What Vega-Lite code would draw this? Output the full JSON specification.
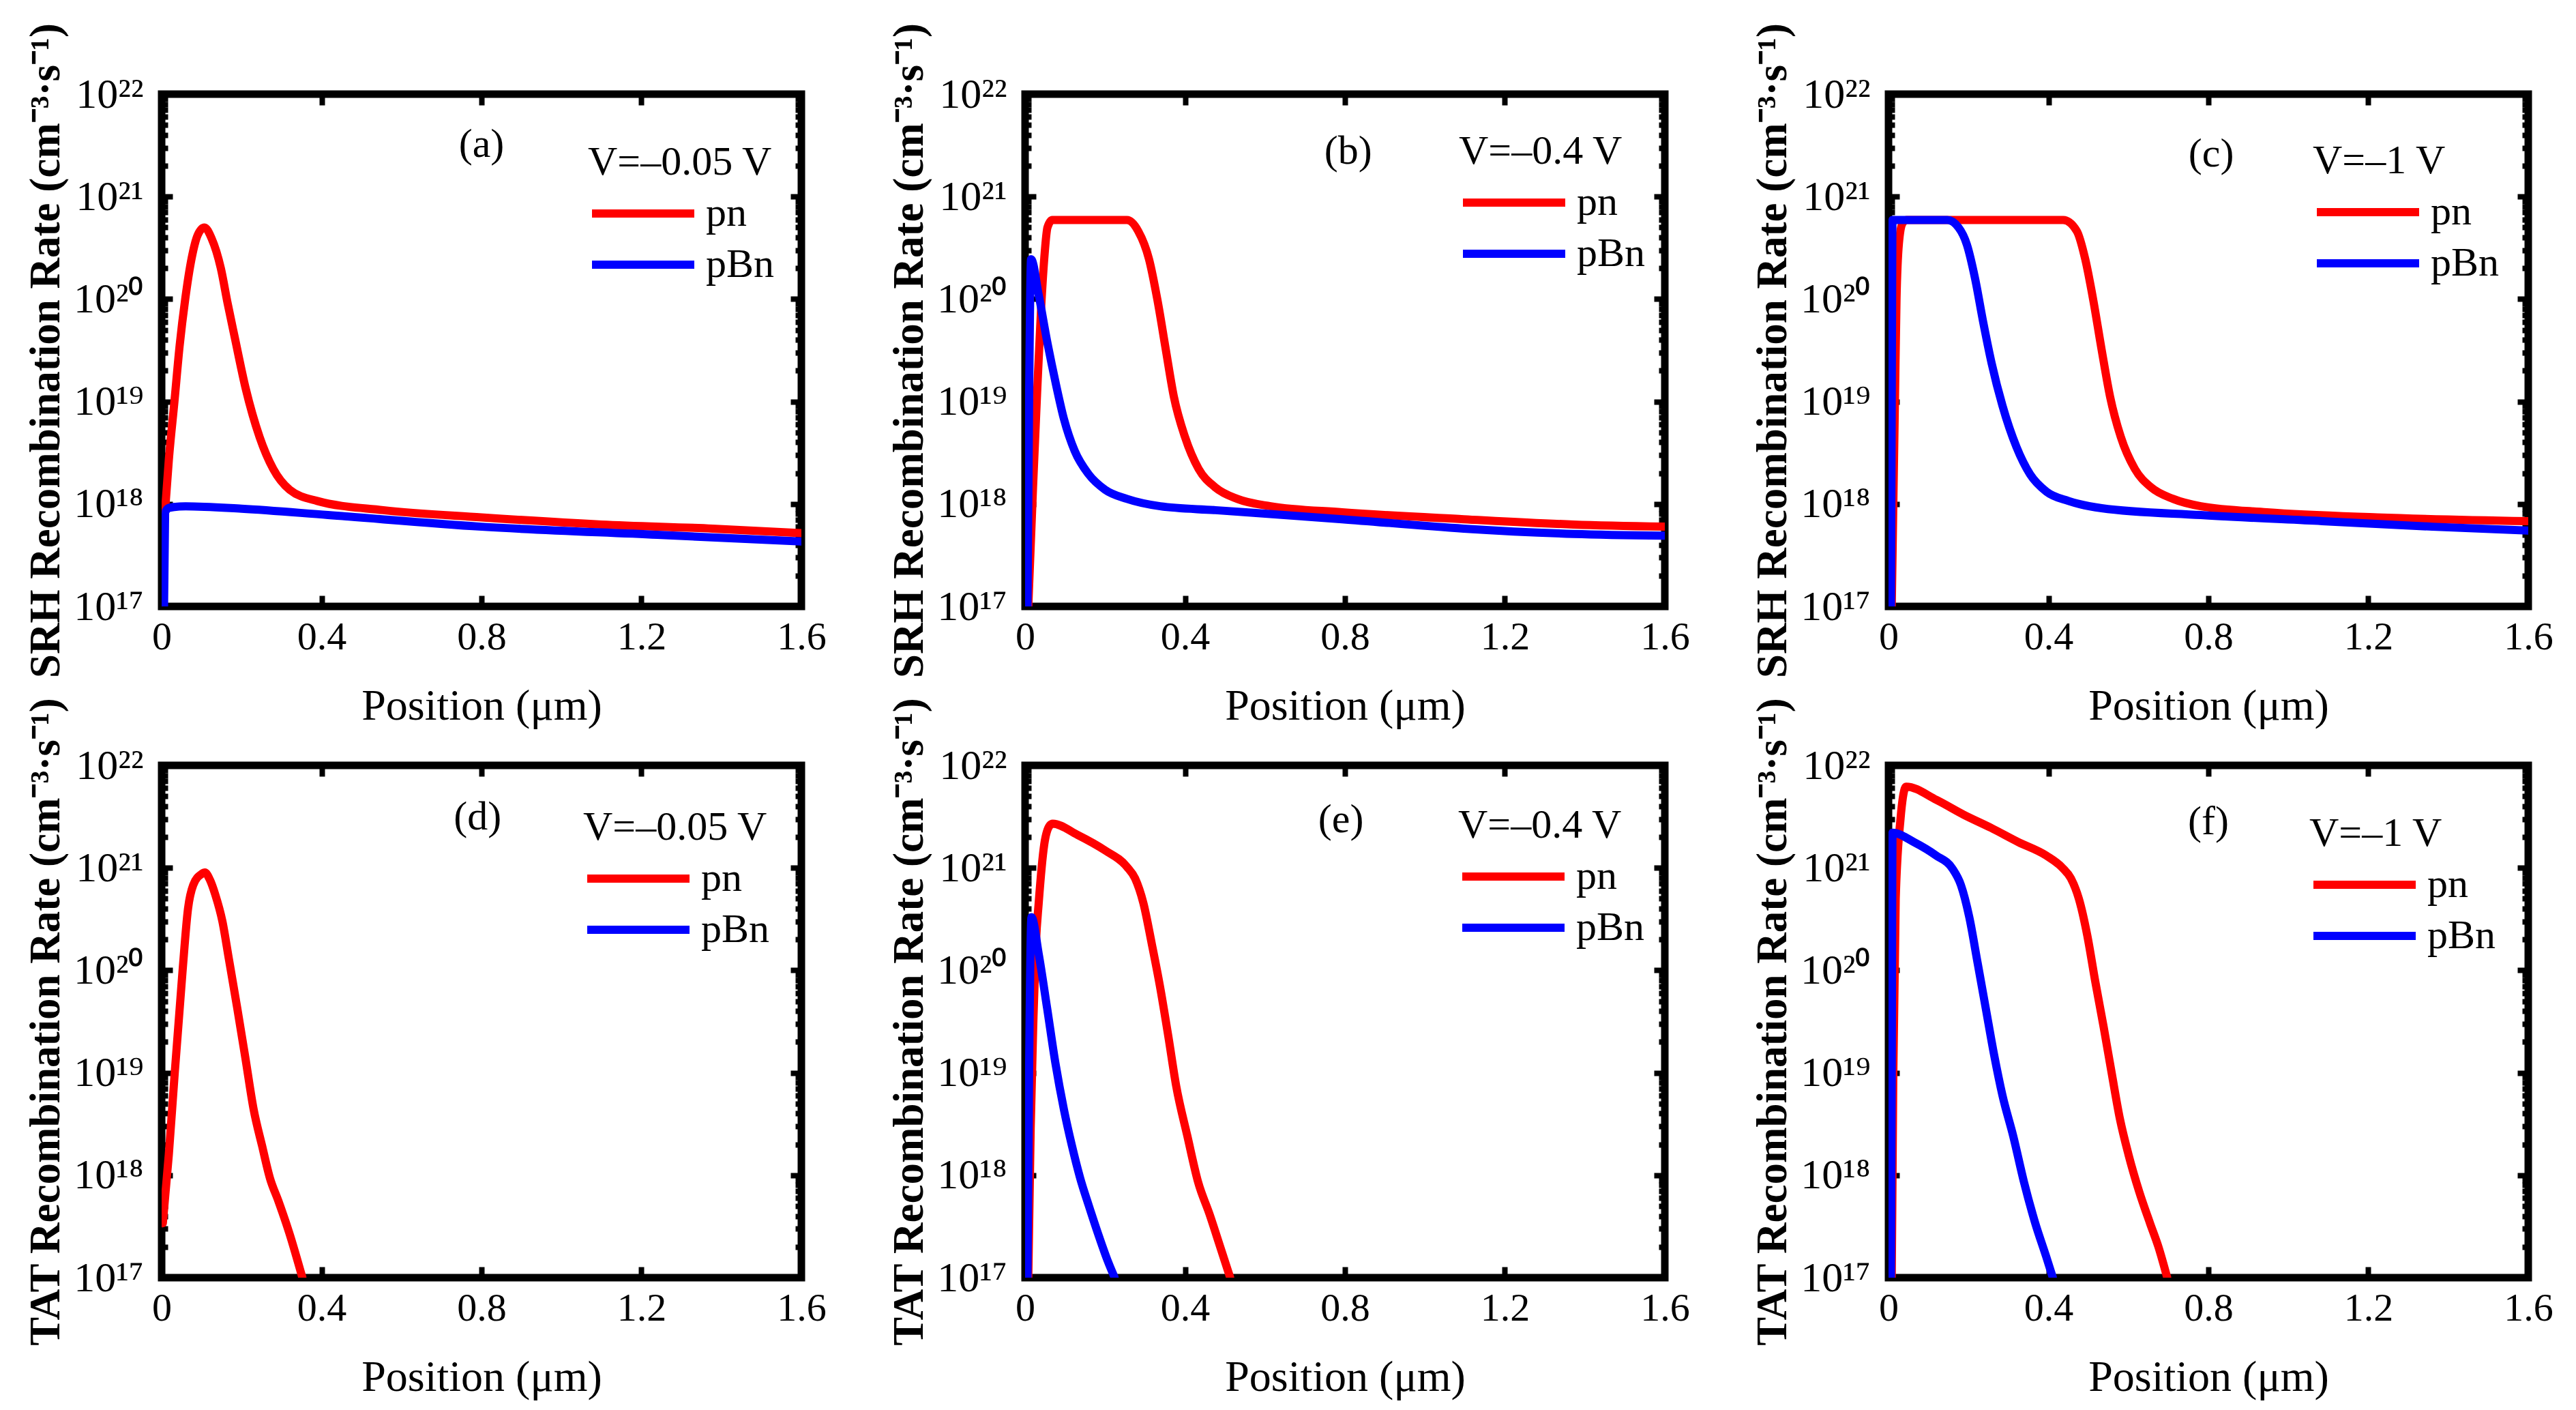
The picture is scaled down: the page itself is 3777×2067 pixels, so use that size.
{
  "$schema": "https://vega.github.io/schema/vega-lite/v6.json",
  "background": "#ffffff",
  "padding": {"left": 30, "top": 28, "right": 0, "bottom": 0},
  "datasets": {
    "curves": [
      {"panel": "a", "device": "pn", "x": 0.008, "rate": 8.0e17},
      {"panel": "a", "device": "pn", "x": 0.018, "rate": 2.7e18},
      {"panel": "a", "device": "pn", "x": 0.032, "rate": 1.0e19},
      {"panel": "a", "device": "pn", "x": 0.045, "rate": 3.5e19},
      {"panel": "a", "device": "pn", "x": 0.059, "rate": 1.0e20},
      {"panel": "a", "device": "pn", "x": 0.075, "rate": 2.5e20},
      {"panel": "a", "device": "pn", "x": 0.09, "rate": 4.2e20},
      {"panel": "a", "device": "pn", "x": 0.107, "rate": 5.0e20},
      {"panel": "a", "device": "pn", "x": 0.125, "rate": 3.9e20},
      {"panel": "a", "device": "pn", "x": 0.148, "rate": 2.0e20},
      {"panel": "a", "device": "pn", "x": 0.165, "rate": 9.1e19},
      {"panel": "a", "device": "pn", "x": 0.183, "rate": 4.2e19},
      {"panel": "a", "device": "pn", "x": 0.21, "rate": 1.35e19},
      {"panel": "a", "device": "pn", "x": 0.245, "rate": 4.5e18},
      {"panel": "a", "device": "pn", "x": 0.279, "rate": 2.2e18},
      {"panel": "a", "device": "pn", "x": 0.32, "rate": 1.38e18},
      {"panel": "a", "device": "pn", "x": 0.389, "rate": 1.07e18},
      {"panel": "a", "device": "pn", "x": 0.554, "rate": 8.7e17},
      {"panel": "a", "device": "pn", "x": 0.8, "rate": 7.4e17},
      {"panel": "a", "device": "pn", "x": 1.1, "rate": 6.3e17},
      {"panel": "a", "device": "pn", "x": 1.378, "rate": 5.75e17},
      {"panel": "a", "device": "pn", "x": 1.6, "rate": 5.2e17},
      {"panel": "a", "device": "pBn", "x": 0.006, "rate": 1.0e17},
      {"panel": "a", "device": "pBn", "x": 0.01, "rate": 8.5e17},
      {"panel": "a", "device": "pBn", "x": 0.02, "rate": 9.2e17},
      {"panel": "a", "device": "pBn", "x": 0.06, "rate": 9.5e17},
      {"panel": "a", "device": "pBn", "x": 0.2, "rate": 9.0e17},
      {"panel": "a", "device": "pBn", "x": 0.416, "rate": 7.8e17},
      {"panel": "a", "device": "pBn", "x": 0.8, "rate": 6.0e17},
      {"panel": "a", "device": "pBn", "x": 1.24, "rate": 5.0e17},
      {"panel": "a", "device": "pBn", "x": 1.6, "rate": 4.3e17},
      {"panel": "b", "device": "pn", "x": 0.008, "rate": 1.0e17},
      {"panel": "b", "device": "pn", "x": 0.02, "rate": 1.5e18},
      {"panel": "b", "device": "pn", "x": 0.03, "rate": 1.2e19},
      {"panel": "b", "device": "pn", "x": 0.04, "rate": 8.0e19},
      {"panel": "b", "device": "pn", "x": 0.048, "rate": 2.5e20},
      {"panel": "b", "device": "pn", "x": 0.056, "rate": 5.0e20},
      {"panel": "b", "device": "pn", "x": 0.068, "rate": 5.9e20},
      {"panel": "b", "device": "pn", "x": 0.255, "rate": 5.9e20},
      {"panel": "b", "device": "pn", "x": 0.283, "rate": 4.6e20},
      {"panel": "b", "device": "pn", "x": 0.31, "rate": 2.45e20},
      {"panel": "b", "device": "pn", "x": 0.331, "rate": 9.8e19},
      {"panel": "b", "device": "pn", "x": 0.352, "rate": 3.2e19},
      {"panel": "b", "device": "pn", "x": 0.372, "rate": 1.12e19},
      {"panel": "b", "device": "pn", "x": 0.4, "rate": 4.5e18},
      {"panel": "b", "device": "pn", "x": 0.434, "rate": 2.2e18},
      {"panel": "b", "device": "pn", "x": 0.476, "rate": 1.45e18},
      {"panel": "b", "device": "pn", "x": 0.531, "rate": 1.12e18},
      {"panel": "b", "device": "pn", "x": 0.614, "rate": 9.5e17},
      {"panel": "b", "device": "pn", "x": 0.793, "rate": 8.3e17},
      {"panel": "b", "device": "pn", "x": 1.097, "rate": 7.1e17},
      {"panel": "b", "device": "pn", "x": 1.372, "rate": 6.3e17},
      {"panel": "b", "device": "pn", "x": 1.6, "rate": 6.0e17},
      {"panel": "b", "device": "pBn", "x": 0.006, "rate": 1.0e17},
      {"panel": "b", "device": "pBn", "x": 0.01, "rate": 1.0e19},
      {"panel": "b", "device": "pBn", "x": 0.015, "rate": 2.45e20},
      {"panel": "b", "device": "pBn", "x": 0.034, "rate": 1.1e20},
      {"panel": "b", "device": "pBn", "x": 0.055, "rate": 3.9e19},
      {"panel": "b", "device": "pBn", "x": 0.076, "rate": 1.55e19},
      {"panel": "b", "device": "pBn", "x": 0.097, "rate": 6.8e18},
      {"panel": "b", "device": "pBn", "x": 0.124, "rate": 3.3e18},
      {"panel": "b", "device": "pBn", "x": 0.159, "rate": 1.95e18},
      {"panel": "b", "device": "pBn", "x": 0.2, "rate": 1.38e18},
      {"panel": "b", "device": "pBn", "x": 0.255, "rate": 1.12e18},
      {"panel": "b", "device": "pBn", "x": 0.338, "rate": 9.5e17},
      {"panel": "b", "device": "pBn", "x": 0.476, "rate": 8.7e17},
      {"panel": "b", "device": "pBn", "x": 0.793, "rate": 7.1e17},
      {"panel": "b", "device": "pBn", "x": 1.097, "rate": 5.75e17},
      {"panel": "b", "device": "pBn", "x": 1.372, "rate": 5.1e17},
      {"panel": "b", "device": "pBn", "x": 1.6, "rate": 4.9e17},
      {"panel": "c", "device": "pn", "x": 0.008, "rate": 1.0e17},
      {"panel": "c", "device": "pn", "x": 0.012, "rate": 1.0e18},
      {"panel": "c", "device": "pn", "x": 0.016, "rate": 1.0e19},
      {"panel": "c", "device": "pn", "x": 0.02, "rate": 1.0e20},
      {"panel": "c", "device": "pn", "x": 0.026, "rate": 3.5e20},
      {"panel": "c", "device": "pn", "x": 0.035, "rate": 5.5e20},
      {"panel": "c", "device": "pn", "x": 0.045, "rate": 5.9e20},
      {"panel": "c", "device": "pn", "x": 0.437, "rate": 5.9e20},
      {"panel": "c", "device": "pn", "x": 0.471, "rate": 4.6e20},
      {"panel": "c", "device": "pn", "x": 0.492, "rate": 2.45e20},
      {"panel": "c", "device": "pn", "x": 0.512, "rate": 9.8e19},
      {"panel": "c", "device": "pn", "x": 0.533, "rate": 3.2e19},
      {"panel": "c", "device": "pn", "x": 0.554, "rate": 1.12e19},
      {"panel": "c", "device": "pn", "x": 0.581, "rate": 4.5e18},
      {"panel": "c", "device": "pn", "x": 0.616, "rate": 2.2e18},
      {"panel": "c", "device": "pn", "x": 0.657, "rate": 1.45e18},
      {"panel": "c", "device": "pn", "x": 0.712, "rate": 1.12e18},
      {"panel": "c", "device": "pn", "x": 0.781, "rate": 9.5e17},
      {"panel": "c", "device": "pn", "x": 0.946, "rate": 8.3e17},
      {"panel": "c", "device": "pn", "x": 1.222, "rate": 7.4e17},
      {"panel": "c", "device": "pn", "x": 1.6, "rate": 6.8e17},
      {"panel": "c", "device": "pBn", "x": 0.006, "rate": 1.0e17},
      {"panel": "c", "device": "pBn", "x": 0.008, "rate": 1.0e19},
      {"panel": "c", "device": "pBn", "x": 0.01, "rate": 5.9e20},
      {"panel": "c", "device": "pBn", "x": 0.147, "rate": 5.9e20},
      {"panel": "c", "device": "pBn", "x": 0.175, "rate": 5.0e20},
      {"panel": "c", "device": "pBn", "x": 0.196, "rate": 3.4e20},
      {"panel": "c", "device": "pBn", "x": 0.216, "rate": 1.62e20},
      {"panel": "c", "device": "pBn", "x": 0.237, "rate": 5.9e19},
      {"panel": "c", "device": "pBn", "x": 0.258, "rate": 2.35e19},
      {"panel": "c", "device": "pBn", "x": 0.285, "rate": 9.1e18},
      {"panel": "c", "device": "pBn", "x": 0.32, "rate": 3.6e18},
      {"panel": "c", "device": "pBn", "x": 0.354, "rate": 1.95e18},
      {"panel": "c", "device": "pBn", "x": 0.395, "rate": 1.32e18},
      {"panel": "c", "device": "pBn", "x": 0.45, "rate": 1.07e18},
      {"panel": "c", "device": "pBn", "x": 0.533, "rate": 9.1e17},
      {"panel": "c", "device": "pBn", "x": 0.781, "rate": 7.8e17},
      {"panel": "c", "device": "pBn", "x": 1.084, "rate": 6.8e17},
      {"panel": "c", "device": "pBn", "x": 1.36, "rate": 6.0e17},
      {"panel": "c", "device": "pBn", "x": 1.6, "rate": 5.5e17},
      {"panel": "d", "device": "pn", "x": 0.003, "rate": 3.4e17},
      {"panel": "d", "device": "pn", "x": 0.018, "rate": 1.6e18},
      {"panel": "d", "device": "pn", "x": 0.032, "rate": 9.1e18},
      {"panel": "d", "device": "pn", "x": 0.052, "rate": 9.5e19},
      {"panel": "d", "device": "pn", "x": 0.066, "rate": 4.0e20},
      {"panel": "d", "device": "pn", "x": 0.079, "rate": 6.8e20},
      {"panel": "d", "device": "pn", "x": 0.1, "rate": 8.7e20},
      {"panel": "d", "device": "pn", "x": 0.108, "rate": 9.0e20},
      {"panel": "d", "device": "pn", "x": 0.121, "rate": 7.6e20},
      {"panel": "d", "device": "pn", "x": 0.134, "rate": 5.5e20},
      {"panel": "d", "device": "pn", "x": 0.152, "rate": 3.0e20},
      {"panel": "d", "device": "pn", "x": 0.168, "rate": 1.3e20},
      {"panel": "d", "device": "pn", "x": 0.189, "rate": 4.3e19},
      {"panel": "d", "device": "pn", "x": 0.21, "rate": 1.35e19},
      {"panel": "d", "device": "pn", "x": 0.23, "rate": 4.4e18},
      {"panel": "d", "device": "pn", "x": 0.251, "rate": 1.95e18},
      {"panel": "d", "device": "pn", "x": 0.271, "rate": 9.3e17},
      {"panel": "d", "device": "pn", "x": 0.292, "rate": 5.6e17},
      {"panel": "d", "device": "pn", "x": 0.319, "rate": 2.75e17},
      {"panel": "d", "device": "pn", "x": 0.352, "rate": 1.0e17},
      {"panel": "e", "device": "pn", "x": 0.008, "rate": 1.0e17},
      {"panel": "e", "device": "pn", "x": 0.014, "rate": 2.9e18},
      {"panel": "e", "device": "pn", "x": 0.021, "rate": 3.5e19},
      {"panel": "e", "device": "pn", "x": 0.027, "rate": 1.8e20},
      {"panel": "e", "device": "pn", "x": 0.034, "rate": 4.5e20},
      {"panel": "e", "device": "pn", "x": 0.048, "rate": 1.7e21},
      {"panel": "e", "device": "pn", "x": 0.062, "rate": 2.6e21},
      {"panel": "e", "device": "pn", "x": 0.069, "rate": 2.7e21},
      {"panel": "e", "device": "pn", "x": 0.131, "rate": 2.1e21},
      {"panel": "e", "device": "pn", "x": 0.2, "rate": 1.48e21},
      {"panel": "e", "device": "pn", "x": 0.255, "rate": 1.02e21},
      {"panel": "e", "device": "pn", "x": 0.275, "rate": 7.9e20},
      {"panel": "e", "device": "pn", "x": 0.296, "rate": 4.5e20},
      {"panel": "e", "device": "pn", "x": 0.317, "rate": 1.8e20},
      {"panel": "e", "device": "pn", "x": 0.337, "rate": 7.1e19},
      {"panel": "e", "device": "pn", "x": 0.358, "rate": 2.3e19},
      {"panel": "e", "device": "pn", "x": 0.378, "rate": 7.4e18},
      {"panel": "e", "device": "pn", "x": 0.406, "rate": 2.4e18},
      {"panel": "e", "device": "pn", "x": 0.433, "rate": 8.5e17},
      {"panel": "e", "device": "pn", "x": 0.461, "rate": 4.2e17},
      {"panel": "e", "device": "pn", "x": 0.488, "rate": 2.0e17},
      {"panel": "e", "device": "pn", "x": 0.513, "rate": 1.0e17},
      {"panel": "e", "device": "pBn", "x": 0.006, "rate": 1.0e17},
      {"panel": "e", "device": "pBn", "x": 0.01, "rate": 1.0e19},
      {"panel": "e", "device": "pBn", "x": 0.016, "rate": 3.3e20},
      {"panel": "e", "device": "pBn", "x": 0.034, "rate": 1.45e20},
      {"panel": "e", "device": "pBn", "x": 0.055, "rate": 4.3e19},
      {"panel": "e", "device": "pBn", "x": 0.076, "rate": 1.23e19},
      {"panel": "e", "device": "pBn", "x": 0.097, "rate": 4.4e18},
      {"panel": "e", "device": "pBn", "x": 0.117, "rate": 1.95e18},
      {"panel": "e", "device": "pBn", "x": 0.138, "rate": 9.3e17},
      {"panel": "e", "device": "pBn", "x": 0.159, "rate": 5.1e17},
      {"panel": "e", "device": "pBn", "x": 0.186, "rate": 2.45e17},
      {"panel": "e", "device": "pBn", "x": 0.206, "rate": 1.48e17},
      {"panel": "e", "device": "pBn", "x": 0.224, "rate": 1.0e17},
      {"panel": "f", "device": "pn", "x": 0.008, "rate": 1.0e17},
      {"panel": "f", "device": "pn", "x": 0.012, "rate": 1.0e19},
      {"panel": "f", "device": "pn", "x": 0.018, "rate": 5.0e20},
      {"panel": "f", "device": "pn", "x": 0.03, "rate": 3.0e21},
      {"panel": "f", "device": "pn", "x": 0.044, "rate": 6.2e21},
      {"panel": "f", "device": "pn", "x": 0.12, "rate": 4.6e21},
      {"panel": "f", "device": "pn", "x": 0.188, "rate": 3.3e21},
      {"panel": "f", "device": "pn", "x": 0.257, "rate": 2.45e21},
      {"panel": "f", "device": "pn", "x": 0.325, "rate": 1.78e21},
      {"panel": "f", "device": "pn", "x": 0.394, "rate": 1.32e21},
      {"panel": "f", "device": "pn", "x": 0.435, "rate": 1.0e21},
      {"panel": "f", "device": "pn", "x": 0.456, "rate": 7.9e20},
      {"panel": "f", "device": "pn", "x": 0.476, "rate": 5.0e20},
      {"panel": "f", "device": "pn", "x": 0.497, "rate": 2.2e20},
      {"panel": "f", "device": "pn", "x": 0.517, "rate": 7.8e19},
      {"panel": "f", "device": "pn", "x": 0.538, "rate": 2.8e19},
      {"panel": "f", "device": "pn", "x": 0.558, "rate": 1.0e19},
      {"panel": "f", "device": "pn", "x": 0.579, "rate": 3.5e18},
      {"panel": "f", "device": "pn", "x": 0.6, "rate": 1.6e18},
      {"panel": "f", "device": "pn", "x": 0.627, "rate": 6.9e17},
      {"panel": "f", "device": "pn", "x": 0.654, "rate": 3.4e17},
      {"panel": "f", "device": "pn", "x": 0.675, "rate": 2.0e17},
      {"panel": "f", "device": "pn", "x": 0.697, "rate": 1.0e17},
      {"panel": "f", "device": "pBn", "x": 0.006, "rate": 1.0e17},
      {"panel": "f", "device": "pBn", "x": 0.008, "rate": 1.0e19},
      {"panel": "f", "device": "pBn", "x": 0.01, "rate": 2.2e21},
      {"panel": "f", "device": "pBn", "x": 0.064, "rate": 1.78e21},
      {"panel": "f", "device": "pBn", "x": 0.119, "rate": 1.32e21},
      {"panel": "f", "device": "pBn", "x": 0.16, "rate": 9.8e20},
      {"panel": "f", "device": "pBn", "x": 0.181, "rate": 6.8e20},
      {"panel": "f", "device": "pBn", "x": 0.202, "rate": 3.3e20},
      {"panel": "f", "device": "pBn", "x": 0.223, "rate": 1.17e20},
      {"panel": "f", "device": "pBn", "x": 0.243, "rate": 4.3e19},
      {"panel": "f", "device": "pBn", "x": 0.264, "rate": 1.5e19},
      {"panel": "f", "device": "pBn", "x": 0.285, "rate": 6.0e18},
      {"panel": "f", "device": "pBn", "x": 0.312, "rate": 2.4e18},
      {"panel": "f", "device": "pBn", "x": 0.339, "rate": 8.5e17},
      {"panel": "f", "device": "pBn", "x": 0.367, "rate": 3.4e17},
      {"panel": "f", "device": "pBn", "x": 0.394, "rate": 1.62e17},
      {"panel": "f", "device": "pBn", "x": 0.411, "rate": 1.0e17}
    ]
  },
  "columns": 3,
  "spacing": {"row": 233, "column": 328},
  "bounds": "flush",
  "resolve": {"scale": {"color": "independent"}, "legend": {"color": "independent"}},
  "concat": [
    {
      "width": 938, "height": 751,
      "layer": [
        {
          "data": {"name": "curves"},
          "transform": [{"filter": "datum.panel === 'a'"}],
          "mark": {"type": "line", "strokeWidth": 12, "clip": true, "strokeJoin": "round", "strokeCap": "round", "interpolate": "monotone"},
          "encoding": {
            "x": {"field": "x", "type": "quantitative", "scale": {"domain": [0, 1.6], "nice": false, "zero": false},
              "axis": {"orient": "bottom", "values": [0, 0.4, 0.8, 1.2, 1.6], "format": ".1~f", "tickSize": -16, "labelPadding": 32, "title": "Position (μm)", "titleFontSize": 64, "titleFontWeight": "normal", "titlePadding": 40}},
            "y": {"field": "rate", "type": "quantitative", "scale": {"type": "log", "domain": [1e17, 1e22], "nice": false},
              "axis": {"orient": "left", "values": [1e17, 2e17, 3e17, 4e17, 5e17, 6e17, 7e17, 8e17, 9e17, 1e18, 2e18, 3e18, 4e18, 5e18, 6e18, 7e18, 8e18, 9e18, 1e19, 2e19, 3e19, 4e19, 5e19, 6e19, 7e19, 8e19, 9e19, 1e20, 2e20, 3e20, 4e20, 5e20, 6e20, 7e20, 8e20, 9e20, 1e21, 2e21, 3e21, 4e21, 5e21, 6e21, 7e21, 8e21, 9e21, 1e22],
                "labelExpr": "abs(log(datum.value)/LN10 - round(log(datum.value)/LN10)) < 0.001 ? ['10¹⁷','10¹⁸','10¹⁹','10²⁰','10²¹','10²²'][round(log(datum.value)/LN10) - 17] : ''",
                "tickSize": {"condition": {"test": "abs(log(datum.value)/LN10 - round(log(datum.value)/LN10)) < 0.001", "value": -16}, "value": -9},
                "labelPadding": 43, "labelFontSize": 62, "title": "SRH Recombination Rate (cm⁻³·s⁻¹)", "titleFontSize": 63, "titleFontWeight": "bold", "titlePadding": 8}},
            "color": {"field": "device", "type": "nominal", "scale": {"domain": ["pn", "pBn"], "range": ["#ff0000", "#0000ff"]},
              "legend": {"title": "V=–0.05 V", "legendX": 625, "legendY": 71}}
          }
        },
        {
          "data": {"values": [{"label": "(a)"}]},
          "mark": {"type": "text", "fontSize": 60, "font": "Liberation Serif", "color": "#000000"},
          "encoding": {
            "x": {"datum": 0.8, "type": "quantitative", "axis": {"orient": "top", "values": [0.4, 0.8, 1.2], "labels": false, "tickSize": -16, "title": null}},
            "y": {"datum": 3.2e21, "type": "quantitative", "axis": {"orient": "right", "values": [1e17, 2e17, 3e17, 4e17, 5e17, 6e17, 7e17, 8e17, 9e17, 1e18, 2e18, 3e18, 4e18, 5e18, 6e18, 7e18, 8e18, 9e18, 1e19, 2e19, 3e19, 4e19, 5e19, 6e19, 7e19, 8e19, 9e19, 1e20, 2e20, 3e20, 4e20, 5e20, 6e20, 7e20, 8e20, 9e20, 1e21, 2e21, 3e21, 4e21, 5e21, 6e21, 7e21, 8e21, 9e21, 1e22], "labels": false,
              "tickSize": {"condition": {"test": "abs(log(datum.value)/LN10 - round(log(datum.value)/LN10)) < 0.001", "value": -16}, "value": -9}, "title": null}},
            "text": {"field": "label"}
          }
        }
      ],
      "resolve": {"axis": {"x": "independent", "y": "independent"}}
    },
    {
      "width": 938, "height": 751,
      "layer": [
        {
          "data": {"name": "curves"},
          "transform": [{"filter": "datum.panel === 'b'"}],
          "mark": {"type": "line", "strokeWidth": 12, "clip": true, "strokeJoin": "round", "strokeCap": "round", "interpolate": "monotone"},
          "encoding": {
            "x": {"field": "x", "type": "quantitative", "scale": {"domain": [0, 1.6], "nice": false, "zero": false},
              "axis": {"orient": "bottom", "values": [0, 0.4, 0.8, 1.2, 1.6], "format": ".1~f", "tickSize": -16, "labelPadding": 32, "title": "Position (μm)", "titleFontSize": 64, "titleFontWeight": "normal", "titlePadding": 40}},
            "y": {"field": "rate", "type": "quantitative", "scale": {"type": "log", "domain": [1e17, 1e22], "nice": false},
              "axis": {"orient": "left", "values": [1e17, 2e17, 3e17, 4e17, 5e17, 6e17, 7e17, 8e17, 9e17, 1e18, 2e18, 3e18, 4e18, 5e18, 6e18, 7e18, 8e18, 9e18, 1e19, 2e19, 3e19, 4e19, 5e19, 6e19, 7e19, 8e19, 9e19, 1e20, 2e20, 3e20, 4e20, 5e20, 6e20, 7e20, 8e20, 9e20, 1e21, 2e21, 3e21, 4e21, 5e21, 6e21, 7e21, 8e21, 9e21, 1e22],
                "labelExpr": "abs(log(datum.value)/LN10 - round(log(datum.value)/LN10)) < 0.001 ? ['10¹⁷','10¹⁸','10¹⁹','10²⁰','10²¹','10²²'][round(log(datum.value)/LN10) - 17] : ''",
                "tickSize": {"condition": {"test": "abs(log(datum.value)/LN10 - round(log(datum.value)/LN10)) < 0.001", "value": -16}, "value": -9},
                "labelPadding": 43, "labelFontSize": 62, "title": "SRH Recombination Rate (cm⁻³·s⁻¹)", "titleFontSize": 63, "titleFontWeight": "bold", "titlePadding": 8}},
            "color": {"field": "device", "type": "nominal", "scale": {"domain": ["pn", "pBn"], "range": ["#ff0000", "#0000ff"]},
              "legend": {"title": "V=–0.4 V", "legendX": 636, "legendY": 55}}
          }
        },
        {
          "data": {"values": [{"label": "(b)"}]},
          "mark": {"type": "text", "fontSize": 60, "font": "Liberation Serif", "color": "#000000"},
          "encoding": {
            "x": {"datum": 0.808, "type": "quantitative", "axis": {"orient": "top", "values": [0.4, 0.8, 1.2], "labels": false, "tickSize": -16, "title": null}},
            "y": {"datum": 2.75e21, "type": "quantitative", "axis": {"orient": "right", "values": [1e17, 2e17, 3e17, 4e17, 5e17, 6e17, 7e17, 8e17, 9e17, 1e18, 2e18, 3e18, 4e18, 5e18, 6e18, 7e18, 8e18, 9e18, 1e19, 2e19, 3e19, 4e19, 5e19, 6e19, 7e19, 8e19, 9e19, 1e20, 2e20, 3e20, 4e20, 5e20, 6e20, 7e20, 8e20, 9e20, 1e21, 2e21, 3e21, 4e21, 5e21, 6e21, 7e21, 8e21, 9e21, 1e22], "labels": false,
              "tickSize": {"condition": {"test": "abs(log(datum.value)/LN10 - round(log(datum.value)/LN10)) < 0.001", "value": -16}, "value": -9}, "title": null}},
            "text": {"field": "label"}
          }
        }
      ],
      "resolve": {"axis": {"x": "independent", "y": "independent"}}
    },
    {
      "width": 938, "height": 751,
      "layer": [
        {
          "data": {"name": "curves"},
          "transform": [{"filter": "datum.panel === 'c'"}],
          "mark": {"type": "line", "strokeWidth": 12, "clip": true, "strokeJoin": "round", "strokeCap": "round", "interpolate": "monotone"},
          "encoding": {
            "x": {"field": "x", "type": "quantitative", "scale": {"domain": [0, 1.6], "nice": false, "zero": false},
              "axis": {"orient": "bottom", "values": [0, 0.4, 0.8, 1.2, 1.6], "format": ".1~f", "tickSize": -16, "labelPadding": 32, "title": "Position (μm)", "titleFontSize": 64, "titleFontWeight": "normal", "titlePadding": 40}},
            "y": {"field": "rate", "type": "quantitative", "scale": {"type": "log", "domain": [1e17, 1e22], "nice": false},
              "axis": {"orient": "left", "values": [1e17, 2e17, 3e17, 4e17, 5e17, 6e17, 7e17, 8e17, 9e17, 1e18, 2e18, 3e18, 4e18, 5e18, 6e18, 7e18, 8e18, 9e18, 1e19, 2e19, 3e19, 4e19, 5e19, 6e19, 7e19, 8e19, 9e19, 1e20, 2e20, 3e20, 4e20, 5e20, 6e20, 7e20, 8e20, 9e20, 1e21, 2e21, 3e21, 4e21, 5e21, 6e21, 7e21, 8e21, 9e21, 1e22],
                "labelExpr": "abs(log(datum.value)/LN10 - round(log(datum.value)/LN10)) < 0.001 ? ['10¹⁷','10¹⁸','10¹⁹','10²⁰','10²¹','10²²'][round(log(datum.value)/LN10) - 17] : ''",
                "tickSize": {"condition": {"test": "abs(log(datum.value)/LN10 - round(log(datum.value)/LN10)) < 0.001", "value": -16}, "value": -9},
                "labelPadding": 43, "labelFontSize": 62, "title": "SRH Recombination Rate (cm⁻³·s⁻¹)", "titleFontSize": 63, "titleFontWeight": "bold", "titlePadding": 8}},
            "color": {"field": "device", "type": "nominal", "scale": {"domain": ["pn", "pBn"], "range": ["#ff0000", "#0000ff"]},
              "legend": {"title": "V=–1 V", "legendX": 622, "legendY": 69}}
          }
        },
        {
          "data": {"values": [{"label": "(c)"}]},
          "mark": {"type": "text", "fontSize": 60, "font": "Liberation Serif", "color": "#000000"},
          "encoding": {
            "x": {"datum": 0.807, "type": "quantitative", "axis": {"orient": "top", "values": [0.4, 0.8, 1.2], "labels": false, "tickSize": -16, "title": null}},
            "y": {"datum": 2.6e21, "type": "quantitative", "axis": {"orient": "right", "values": [1e17, 2e17, 3e17, 4e17, 5e17, 6e17, 7e17, 8e17, 9e17, 1e18, 2e18, 3e18, 4e18, 5e18, 6e18, 7e18, 8e18, 9e18, 1e19, 2e19, 3e19, 4e19, 5e19, 6e19, 7e19, 8e19, 9e19, 1e20, 2e20, 3e20, 4e20, 5e20, 6e20, 7e20, 8e20, 9e20, 1e21, 2e21, 3e21, 4e21, 5e21, 6e21, 7e21, 8e21, 9e21, 1e22], "labels": false,
              "tickSize": {"condition": {"test": "abs(log(datum.value)/LN10 - round(log(datum.value)/LN10)) < 0.001", "value": -16}, "value": -9}, "title": null}},
            "text": {"field": "label"}
          }
        }
      ],
      "resolve": {"axis": {"x": "independent", "y": "independent"}}
    },
    {
      "width": 938, "height": 751,
      "layer": [
        {
          "data": {"name": "curves"},
          "transform": [{"filter": "datum.panel === 'd'"}],
          "mark": {"type": "line", "strokeWidth": 12, "clip": true, "strokeJoin": "round", "strokeCap": "round", "interpolate": "monotone"},
          "encoding": {
            "x": {"field": "x", "type": "quantitative", "scale": {"domain": [0, 1.6], "nice": false, "zero": false},
              "axis": {"orient": "bottom", "values": [0, 0.4, 0.8, 1.2, 1.6], "format": ".1~f", "tickSize": -16, "labelPadding": 32, "title": "Position (μm)", "titleFontSize": 64, "titleFontWeight": "normal", "titlePadding": 40}},
            "y": {"field": "rate", "type": "quantitative", "scale": {"type": "log", "domain": [1e17, 1e22], "nice": false},
              "axis": {"orient": "left", "values": [1e17, 2e17, 3e17, 4e17, 5e17, 6e17, 7e17, 8e17, 9e17, 1e18, 2e18, 3e18, 4e18, 5e18, 6e18, 7e18, 8e18, 9e18, 1e19, 2e19, 3e19, 4e19, 5e19, 6e19, 7e19, 8e19, 9e19, 1e20, 2e20, 3e20, 4e20, 5e20, 6e20, 7e20, 8e20, 9e20, 1e21, 2e21, 3e21, 4e21, 5e21, 6e21, 7e21, 8e21, 9e21, 1e22],
                "labelExpr": "abs(log(datum.value)/LN10 - round(log(datum.value)/LN10)) < 0.001 ? ['10¹⁷','10¹⁸','10¹⁹','10²⁰','10²¹','10²²'][round(log(datum.value)/LN10) - 17] : ''",
                "tickSize": {"condition": {"test": "abs(log(datum.value)/LN10 - round(log(datum.value)/LN10)) < 0.001", "value": -16}, "value": -9},
                "labelPadding": 43, "labelFontSize": 62, "title": "TAT Recombination Rate (cm⁻³·s⁻¹)", "titleFontSize": 63, "titleFontWeight": "bold", "titlePadding": 8}},
            "color": {"field": "device", "type": "nominal", "scale": {"domain": ["pn", "pBn"], "range": ["#ff0000", "#0000ff"]},
              "legend": {"title": "V=–0.05 V", "legendX": 618, "legendY": 62}}
          }
        },
        {
          "data": {"values": [{"label": "(d)"}]},
          "mark": {"type": "text", "fontSize": 60, "font": "Liberation Serif", "color": "#000000"},
          "encoding": {
            "x": {"datum": 0.79, "type": "quantitative", "axis": {"orient": "top", "values": [0.4, 0.8, 1.2], "labels": false, "tickSize": -16, "title": null}},
            "y": {"datum": 3.1e21, "type": "quantitative", "axis": {"orient": "right", "values": [1e17, 2e17, 3e17, 4e17, 5e17, 6e17, 7e17, 8e17, 9e17, 1e18, 2e18, 3e18, 4e18, 5e18, 6e18, 7e18, 8e18, 9e18, 1e19, 2e19, 3e19, 4e19, 5e19, 6e19, 7e19, 8e19, 9e19, 1e20, 2e20, 3e20, 4e20, 5e20, 6e20, 7e20, 8e20, 9e20, 1e21, 2e21, 3e21, 4e21, 5e21, 6e21, 7e21, 8e21, 9e21, 1e22], "labels": false,
              "tickSize": {"condition": {"test": "abs(log(datum.value)/LN10 - round(log(datum.value)/LN10)) < 0.001", "value": -16}, "value": -9}, "title": null}},
            "text": {"field": "label"}
          }
        }
      ],
      "resolve": {"axis": {"x": "independent", "y": "independent"}}
    },
    {
      "width": 938, "height": 751,
      "layer": [
        {
          "data": {"name": "curves"},
          "transform": [{"filter": "datum.panel === 'e'"}],
          "mark": {"type": "line", "strokeWidth": 12, "clip": true, "strokeJoin": "round", "strokeCap": "round", "interpolate": "monotone"},
          "encoding": {
            "x": {"field": "x", "type": "quantitative", "scale": {"domain": [0, 1.6], "nice": false, "zero": false},
              "axis": {"orient": "bottom", "values": [0, 0.4, 0.8, 1.2, 1.6], "format": ".1~f", "tickSize": -16, "labelPadding": 32, "title": "Position (μm)", "titleFontSize": 64, "titleFontWeight": "normal", "titlePadding": 40}},
            "y": {"field": "rate", "type": "quantitative", "scale": {"type": "log", "domain": [1e17, 1e22], "nice": false},
              "axis": {"orient": "left", "values": [1e17, 2e17, 3e17, 4e17, 5e17, 6e17, 7e17, 8e17, 9e17, 1e18, 2e18, 3e18, 4e18, 5e18, 6e18, 7e18, 8e18, 9e18, 1e19, 2e19, 3e19, 4e19, 5e19, 6e19, 7e19, 8e19, 9e19, 1e20, 2e20, 3e20, 4e20, 5e20, 6e20, 7e20, 8e20, 9e20, 1e21, 2e21, 3e21, 4e21, 5e21, 6e21, 7e21, 8e21, 9e21, 1e22],
                "labelExpr": "abs(log(datum.value)/LN10 - round(log(datum.value)/LN10)) < 0.001 ? ['10¹⁷','10¹⁸','10¹⁹','10²⁰','10²¹','10²²'][round(log(datum.value)/LN10) - 17] : ''",
                "tickSize": {"condition": {"test": "abs(log(datum.value)/LN10 - round(log(datum.value)/LN10)) < 0.001", "value": -16}, "value": -9},
                "labelPadding": 43, "labelFontSize": 62, "title": "TAT Recombination Rate (cm⁻³·s⁻¹)", "titleFontSize": 63, "titleFontWeight": "bold", "titlePadding": 8}},
            "color": {"field": "device", "type": "nominal", "scale": {"domain": ["pn", "pBn"], "range": ["#ff0000", "#0000ff"]},
              "legend": {"title": "V=–0.4 V", "legendX": 635, "legendY": 59}}
          }
        },
        {
          "data": {"values": [{"label": "(e)"}]},
          "mark": {"type": "text", "fontSize": 60, "font": "Liberation Serif", "color": "#000000"},
          "encoding": {
            "x": {"datum": 0.79, "type": "quantitative", "axis": {"orient": "top", "values": [0.4, 0.8, 1.2], "labels": false, "tickSize": -16, "title": null}},
            "y": {"datum": 2.95e21, "type": "quantitative", "axis": {"orient": "right", "values": [1e17, 2e17, 3e17, 4e17, 5e17, 6e17, 7e17, 8e17, 9e17, 1e18, 2e18, 3e18, 4e18, 5e18, 6e18, 7e18, 8e18, 9e18, 1e19, 2e19, 3e19, 4e19, 5e19, 6e19, 7e19, 8e19, 9e19, 1e20, 2e20, 3e20, 4e20, 5e20, 6e20, 7e20, 8e20, 9e20, 1e21, 2e21, 3e21, 4e21, 5e21, 6e21, 7e21, 8e21, 9e21, 1e22], "labels": false,
              "tickSize": {"condition": {"test": "abs(log(datum.value)/LN10 - round(log(datum.value)/LN10)) < 0.001", "value": -16}, "value": -9}, "title": null}},
            "text": {"field": "label"}
          }
        }
      ],
      "resolve": {"axis": {"x": "independent", "y": "independent"}}
    },
    {
      "width": 938, "height": 751,
      "layer": [
        {
          "data": {"name": "curves"},
          "transform": [{"filter": "datum.panel === 'f'"}],
          "mark": {"type": "line", "strokeWidth": 12, "clip": true, "strokeJoin": "round", "strokeCap": "round", "interpolate": "monotone"},
          "encoding": {
            "x": {"field": "x", "type": "quantitative", "scale": {"domain": [0, 1.6], "nice": false, "zero": false},
              "axis": {"orient": "bottom", "values": [0, 0.4, 0.8, 1.2, 1.6], "format": ".1~f", "tickSize": -16, "labelPadding": 32, "title": "Position (μm)", "titleFontSize": 64, "titleFontWeight": "normal", "titlePadding": 40}},
            "y": {"field": "rate", "type": "quantitative", "scale": {"type": "log", "domain": [1e17, 1e22], "nice": false},
              "axis": {"orient": "left", "values": [1e17, 2e17, 3e17, 4e17, 5e17, 6e17, 7e17, 8e17, 9e17, 1e18, 2e18, 3e18, 4e18, 5e18, 6e18, 7e18, 8e18, 9e18, 1e19, 2e19, 3e19, 4e19, 5e19, 6e19, 7e19, 8e19, 9e19, 1e20, 2e20, 3e20, 4e20, 5e20, 6e20, 7e20, 8e20, 9e20, 1e21, 2e21, 3e21, 4e21, 5e21, 6e21, 7e21, 8e21, 9e21, 1e22],
                "labelExpr": "abs(log(datum.value)/LN10 - round(log(datum.value)/LN10)) < 0.001 ? ['10¹⁷','10¹⁸','10¹⁹','10²⁰','10²¹','10²²'][round(log(datum.value)/LN10) - 17] : ''",
                "tickSize": {"condition": {"test": "abs(log(datum.value)/LN10 - round(log(datum.value)/LN10)) < 0.001", "value": -16}, "value": -9},
                "labelPadding": 43, "labelFontSize": 62, "title": "TAT Recombination Rate (cm⁻³·s⁻¹)", "titleFontSize": 63, "titleFontWeight": "bold", "titlePadding": 8}},
            "color": {"field": "device", "type": "nominal", "scale": {"domain": ["pn", "pBn"], "range": ["#ff0000", "#0000ff"]},
              "legend": {"title": "V=–1 V", "legendX": 617, "legendY": 71}}
          }
        },
        {
          "data": {"values": [{"label": "(f)"}]},
          "mark": {"type": "text", "fontSize": 60, "font": "Liberation Serif", "color": "#000000"},
          "encoding": {
            "x": {"datum": 0.8, "type": "quantitative", "axis": {"orient": "top", "values": [0.4, 0.8, 1.2], "labels": false, "tickSize": -16, "title": null}},
            "y": {"datum": 2.8e21, "type": "quantitative", "axis": {"orient": "right", "values": [1e17, 2e17, 3e17, 4e17, 5e17, 6e17, 7e17, 8e17, 9e17, 1e18, 2e18, 3e18, 4e18, 5e18, 6e18, 7e18, 8e18, 9e18, 1e19, 2e19, 3e19, 4e19, 5e19, 6e19, 7e19, 8e19, 9e19, 1e20, 2e20, 3e20, 4e20, 5e20, 6e20, 7e20, 8e20, 9e20, 1e21, 2e21, 3e21, 4e21, 5e21, 6e21, 7e21, 8e21, 9e21, 1e22], "labels": false,
              "tickSize": {"condition": {"test": "abs(log(datum.value)/LN10 - round(log(datum.value)/LN10)) < 0.001", "value": -16}, "value": -9}, "title": null}},
            "text": {"field": "label"}
          }
        }
      ],
      "resolve": {"axis": {"x": "independent", "y": "independent"}}
    }
  ],
  "config": {
    "font": "Liberation Serif",
    "view": {"stroke": "#000000", "strokeWidth": 11},
    "axis": {"domain": false, "grid": false, "labelFont": "Liberation Serif", "labelFontSize": 58, "labelColor": "#000000", "tickColor": "#000000", "tickWidth": 8, "titleFont": "Liberation Serif", "titleColor": "#000000", "labelFlush": false, "labelOverlap": false, "labelBound": false},
    "legend": {"orient": "none", "padding": 0, "titleFont": "Liberation Serif", "titleFontSize": 60, "titleFontWeight": "normal", "titleColor": "#000000", "titlePadding": 8, "titleLimit": 2000, "labelFont": "Liberation Serif", "labelFontSize": 60, "labelColor": "#000000", "labelLimit": 2000, "labelOffset": 101, "symbolType": "M-1,0H4", "symbolSize": 3600, "symbolStrokeWidth": 12, "rowPadding": 9}
  }
}
